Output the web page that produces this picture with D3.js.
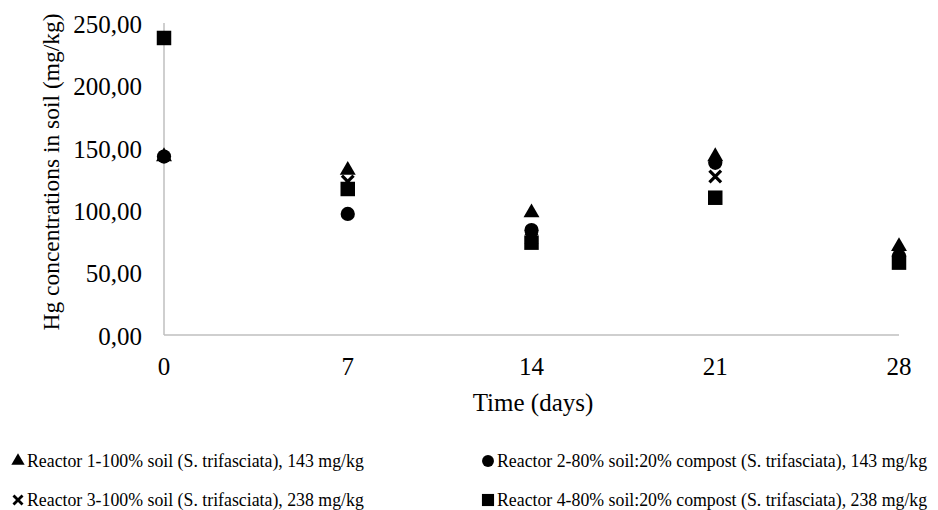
<!DOCTYPE html>
<html><head><meta charset="utf-8">
<script src="https://cdn.jsdelivr.net/npm/d3@7"></script>
<style>body{margin:0;background:#fff}svg{display:block}text{font-family:"Liberation Serif","Times New Roman",serif;fill:#000}</style>
</head><body><svg id="c" width="938" height="510"></svg>
<script>
const days = [0, 7, 14, 21, 28];
const yTicks = [0, 50, 100, 150, 200, 250];
const reactor1 = [143, 132, 98, 143, 71];
const reactor2 = [143, 97, 84, 138, 63];
const reactor3 = [238, 123, 77, 127, 61];
const reactor4 = [238, 117, 74, 110, 58];
const seriesNames = [
  "Reactor 1-100% soil (S. trifasciata), 143 mg/kg",
  "Reactor 2-80% soil:20% compost (S. trifasciata), 143 mg/kg",
  "Reactor 3-100% soil (S. trifasciata), 238 mg/kg",
  "Reactor 4-80% soil:20% compost (S. trifasciata), 238 mg/kg"
];
const seriesValues = [reactor1, reactor2, reactor3, reactor4];
const symbols = [d3.symbolTriangle, d3.symbolCircle, d3.symbolX, d3.symbolSquare];
const sizes = [110, 160, 90, 210];

const svg = d3.select("#c");
const x = d3.scaleLinear().domain([0, 28]).range([164, 899]);
const y = d3.scaleLinear().domain([0, 250]).range([335, 23]);
const fmt = v => d3.format(".2f")(v).replace(".", ",");

// axes
const axisColor = "#bfbfbf";
svg.append("line").attr("x1", x(0)).attr("x2", x(0)).attr("y1", y(250)).attr("y2", y(0))
  .attr("stroke", axisColor).attr("stroke-width", 1.5);
svg.append("line").attr("x1", x(0)).attr("x2", x(28)).attr("y1", y(0)).attr("y2", y(0))
  .attr("stroke", axisColor).attr("stroke-width", 1.5);

svg.selectAll(".yt").data(yTicks).enter().append("text")
  .attr("x", 142).attr("y", d => y(d) + 1).attr("dy", "0.35em")
  .attr("text-anchor", "end").attr("font-size", 25).text(fmt);

svg.selectAll(".xt").data(days).enter().append("text")
  .attr("x", d => x(d)).attr("y", 375)
  .attr("text-anchor", "middle").attr("font-size", 25).text(d => d);

svg.append("text").attr("x", 533).attr("y", 411).attr("text-anchor", "middle")
  .attr("font-size", 25).text("Time (days)");
svg.append("text").attr("transform", "translate(59,172) rotate(-90)")
  .attr("text-anchor", "middle").attr("font-size", 23.5)
  .text("Hg concentrations in soil (mg/kg)");

// markers
function drawSym(g, i, cx, cy, scale) {
  const sym = d3.symbol().type(symbols[i]).size(sizes[i] * (scale || 1));
  const p = g.append("path").attr("d", sym()).attr("transform", `translate(${cx},${cy})`);
  if (i === 2) p.attr("fill", "none").attr("stroke", "#000").attr("stroke-width", 3.2);
  else p.attr("fill", "#000");
}
seriesValues.forEach((vals, i) => {
  const g = svg.append("g");
  vals.forEach((v, j) => drawSym(g, i, x(days[j]), y(v)));
});

// legend
const legPos = [[18, 467], [488, 467], [18, 506], [488, 506]];
seriesNames.forEach((name, i) => {
  const g = svg.append("g");
  const [lx, ly] = legPos[i];
  if (i === 2) {
    const sym = d3.symbol().type(d3.symbolX).size(55);
    g.append("path").attr("d", sym()).attr("transform", `translate(${lx},${ly - 6})`)
      .attr("fill", "none").attr("stroke", "#000").attr("stroke-width", 2.8);
  } else {
    const sym = d3.symbol().type(symbols[i]).size(sizes[i] * 0.7);
    g.append("path").attr("d", sym()).attr("transform", `translate(${lx},${ly - 6})`).attr("fill", "#000");
  }
  g.append("text").attr("x", lx + 9).attr("y", ly).attr("font-size", 17.8).text(name);
});
</script></body></html>
